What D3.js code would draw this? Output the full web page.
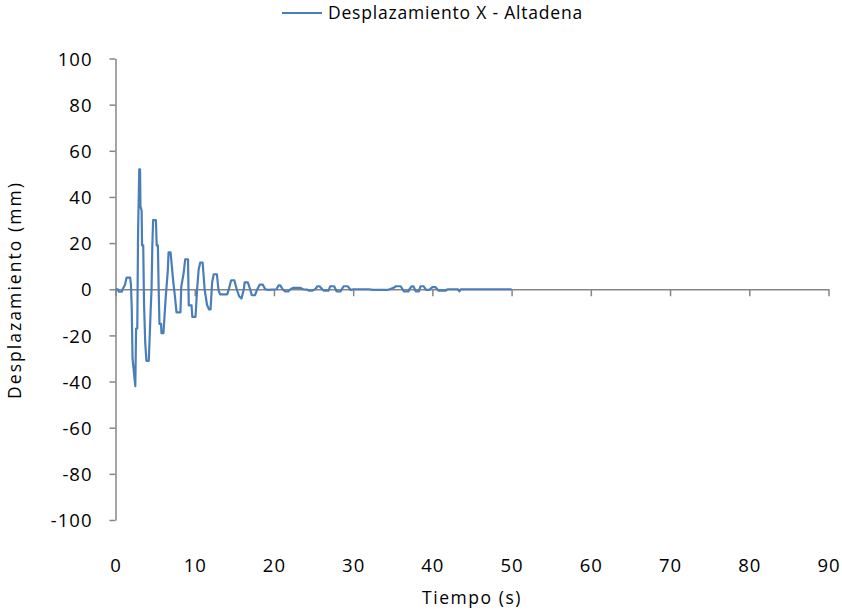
<!DOCTYPE html>
<html>
<head>
<meta charset="utf-8">
<script src="https://cdn.jsdelivr.net/npm/d3@7"></script>
<style>
  html, body { margin: 0; padding: 0; background: #ffffff; }
  svg { display: block; }
  text { font-family: "Open Sans", Lato, sans-serif; fill: #000; }
</style>
</head>
<body>
<svg id="chart" width="842" height="614"></svg>
<script>
// Displacement record: time (s) and displacement (mm)
const tiempo = [
  0, 0.3, 0.4, 0.8, 0.9, 1.2, 1.4, 1.85, 1.95, 2.05, 2.15, 2.5, 2.6, 2.75, 2.85, 3.0, 3.1,
  3.15, 3.3, 3.35, 3.5, 3.6, 3.75, 3.9, 4.2, 4.3, 4.45, 4.55, 4.65, 4.75, 5.1, 5.2, 5.35,
  5.45, 5.55, 5.75, 5.8, 6.05, 6.35, 6.6, 6.7, 6.95, 7.3, 7.5, 7.7, 8.2, 8.3, 8.6, 8.8, 9.15,
  9.25, 9.6, 9.7, 10.1, 10.3, 10.5, 10.7, 11.0, 11.25, 11.55, 11.8, 12.0, 12.2, 12.4, 12.8,
  13.0, 13.2, 14.1, 14.3, 14.6, 15.0, 15.3, 15.6, 15.9, 16.2, 16.3, 16.7, 17.0, 17.2, 17.6,
  17.9, 18.2, 18.6, 18.9, 19.3, 20.3, 20.6, 20.8, 21.1, 21.4, 21.8, 22.1, 22.4, 23.3, 23.7,
  24.2, 24.4, 24.8, 25.2, 25.5, 25.75, 26.1, 26.3, 26.9, 27.1, 27.6, 27.9, 28.4, 28.8, 29.3,
  29.7, 30.0, 32.0, 32.5, 33.9, 34.3, 34.6, 35.1, 35.4, 36.0, 36.4, 37.0, 37.1, 37.4, 37.6,
  37.9, 38.3, 38.5, 38.9, 39.2, 39.6, 40.0, 40.4, 40.8, 41.7, 41.9, 43.2, 43.4, 43.6, 50.0
];
const desplazamiento = [
  0, 0, -1, -1, 0, 2, 5, 5, 2, -8, -30, -42, -17, -17, 25, 52, 52,
  36, 34, 19, 19, -6, -23, -31, -31, -22, -8, 0, 19, 30, 30, 19, 19,
  0, -15, -15, -19, -19, -3, 8, 16, 16, 3, -3, -10, -10, 1, 7, 13, 13,
  -7, -7, -12, -12, 0, 8.7, 11.6, 11.6, 0, -6.7, -8.7, -8.7, 3, 6.5, 6.5,
  -0.4, -2.2, -2.2, 0, 3.9, 3.9, 0, -3, -4, 0, 3, 3, 0, -2.6, -2.6,
  0, 2, 2, 0, -0.3, 0, 1.7, 1.7, 0, -0.9, -0.9, 0, 0.6, 0.6, 0,
  -0.2, -0.6, -0.6, 0, 1.3, 1.3, 0, -0.6, -0.6, 1.3, 1.3, -0.9, -0.9, 1.3, 1.3,
  -0.3, 0, 0, -0.3, -0.3, -0.3, 0, 0.6, 1.3, 1.3, -0.9, -0.9, 0, 1.3, 1.3,
  -0.9, -0.9, 1.3, 1.3, -0.3, -0.3, 0.9, 0.9, -0.6, -0.6, 0, 0, -0.9, 0, 0
];
const xTicks = [0, 10, 20, 30, 40, 50, 60, 70, 80, 90];
const yTicks = [-100, -80, -60, -40, -20, 0, 20, 40, 60, 80, 100];
const seriesName = "Desplazamiento X - Altadena";
const xTitle = "Tiempo (s)";
const yTitle = "Desplazamiento (mm)";

const svg = d3.select("#chart");
const axisColor = "#868686";
const lineColor = "#4a7ebb";
const tickFont = 18.5;
const titleFont = 17.5;

// Spread a label's letters so that it spans the given width
function fitWidth(sel, width) {
  const node = sel.node();
  const n = sel.text().length;
  const w = node.getComputedTextLength();
  sel.attr("letter-spacing", Math.max(0, (width - w) / n).toFixed(2));
  return sel;
}

const x = d3.scaleLinear().domain([0, 90]).range([115.5, 828.5]);
const y = d3.scaleLinear().domain([-100, 100]).range([520, 58.5]);

// Y axis on the left with outward ticks
const yAxis = svg.append("g")
  .attr("transform", `translate(${x(0)},0)`)
  .call(d3.axisLeft(y).tickValues(yTicks).tickSize(6).tickSizeOuter(0).tickFormat(d => String(d)));
yAxis.select(".domain").attr("stroke", axisColor).attr("stroke-width", 1.5);
yAxis.selectAll(".tick line").attr("stroke", axisColor).attr("stroke-width", 1.5);
yAxis.selectAll(".tick text")
  .attr("x", -23)
  .attr("dy", "0.36em")
  .attr("font-size", tickFont)
  .attr("letter-spacing", 1)
  .style("font-family", "'Open Sans', Lato, sans-serif")
  .attr("fill", "#000");

// X axis crossing at zero, labels placed at the bottom of the plot
const xAxis = svg.append("g")
  .attr("transform", `translate(0,${y(0)})`)
  .call(d3.axisBottom(x).tickValues(xTicks).tickSize(7).tickSizeOuter(0).tickFormat(""));
xAxis.select(".domain").attr("stroke", axisColor).attr("stroke-width", 1.5);
xAxis.selectAll(".tick line").attr("stroke", axisColor).attr("stroke-width", 1.5);

svg.append("g").selectAll("text")
  .data(xTicks)
  .join("text")
  .attr("x", d => x(d) + 0.5)
  .attr("y", 572)
  .attr("text-anchor", "middle")
  .attr("font-size", tickFont)
  .attr("letter-spacing", 1)
  .text(d => d);

// Displacement series
const pts = tiempo.map((t, i) => [t, desplazamiento[i]]);
const line = d3.line().x(d => x(d[0])).y(d => y(d[1]));
svg.append("path")
  .datum(pts)
  .attr("fill", "none")
  .attr("stroke", lineColor)
  .attr("stroke-width", 2.2)
  .attr("stroke-linejoin", "round")
  .attr("d", line);

// Legend
svg.append("line")
  .attr("x1", 282).attr("x2", 322)
  .attr("y1", 13).attr("y2", 13)
  .attr("stroke", lineColor).attr("stroke-width", 2);
fitWidth(svg.append("text")
  .attr("x", 328).attr("y", 19)
  .attr("font-size", titleFont)
  .text(seriesName), 255);

// Axis titles
fitWidth(svg.append("text")
  .attr("x", 472).attr("y", 604)
  .attr("text-anchor", "middle")
  .attr("font-size", titleFont)
  .text(xTitle), 100);
fitWidth(svg.append("text")
  .attr("transform", `translate(21,290) rotate(-90)`)
  .attr("text-anchor", "middle")
  .attr("font-size", titleFont)
  .text(yTitle), 218);
</script>
</body>
</html>
